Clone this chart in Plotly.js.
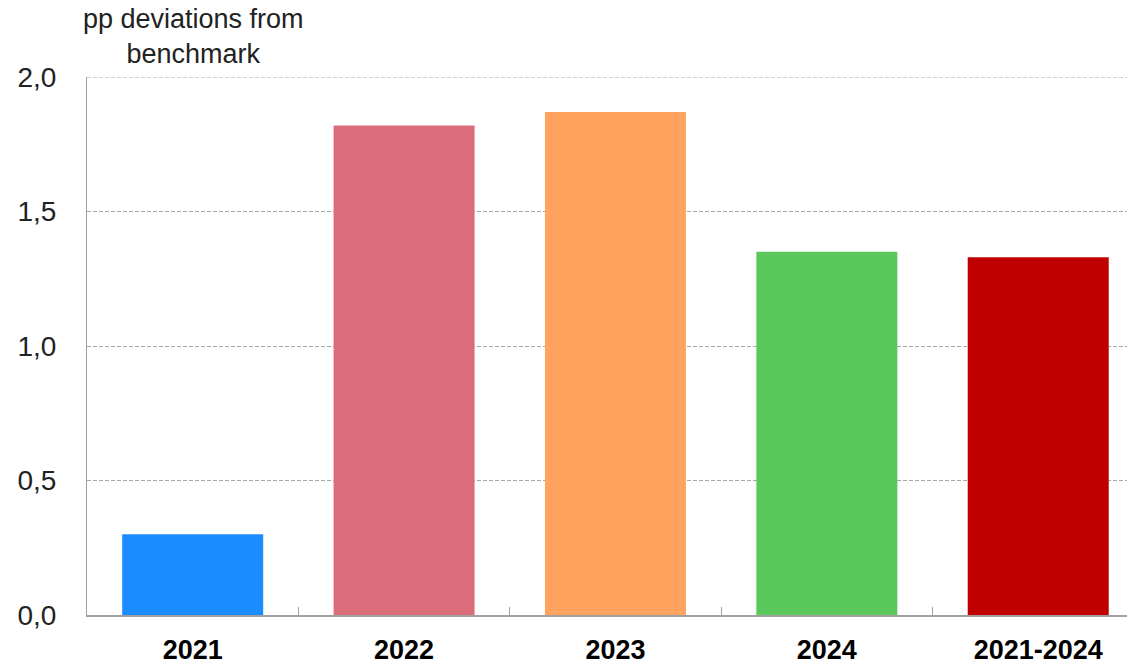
<!DOCTYPE html>
<html>
<head>
<meta charset="utf-8">
<script src="https://cdn.plot.ly/plotly-3.0.1.min.js"></script>
<style>html,body{margin:0;padding:0;background:#fff;}#chart{width:1127px;height:666px;}</style>
</head>
<body>
<div id="chart"></div>
<script>
const categories = ["2021", "2022", "2023", "2024", "2021-2024"];
const values = [0.30, 1.82, 1.87, 1.35, 1.33];
const barColors = ["#1a8cff", "#db6c79", "#ffa35f", "#5bc85b", "#c00000"];
const yTickVals = [0, 0.5, 1.0, 1.5, 2.0];
const yTickText = ["0,0", "0,5", "1,0", "1,5", "2,0"];
const yMax = 2.0;
const yTitle = "pp deviations from<br>benchmark";

const trace = {
  type: "bar",
  x: categories,
  y: values,
  marker: { color: barColors, line: { width: 0 } },
  hoverinfo: "x+y"
};

const layout = {
  width: 1127,
  height: 666,
  margin: { l: 87, r: 0, t: 77, b: 51, pad: 0 },
  paper_bgcolor: "#ffffff",
  plot_bgcolor: "#ffffff",
  bargap: 0.333,
  showlegend: false,
  font: { family: "Liberation Sans, Arial, sans-serif", color: "#222" },
  xaxis: {
    type: "category",
    range: [-0.5, 4.42],
    showgrid: false,
    showline: true,
    linecolor: "#a0a0a0",
    linewidth: 1.5,
    ticks: "inside",
    ticklen: 8,
    tickcolor: "#a0a0a0",
    tickson: "boundaries",
    tickfont: { size: 27, color: "#000", weight: "bold" },
    ticklabelstandoff: 10,
    zeroline: false
  },
  yaxis: {
    range: [0, yMax],
    tickvals: yTickVals,
    ticktext: yTickText,
    showgrid: true,
    gridcolor: "#a6a6a6",
    griddash: "4px,2px",
    gridwidth: 1,
    showline: true,
    linecolor: "#a0a0a0",
    linewidth: 1,
    ticks: "",
    tickfont: { size: 28, color: "#222" },
    ticklabelstandoff: 24,
    zeroline: false
  },
  shapes: [{
    type: "line",
    xref: "paper", yref: "y",
    x0: 0, x1: 1, y0: yMax, y1: yMax,
    line: { color: "#a6a6a6", width: 1, dash: "4px,2px" },
    layer: "below"
  }],
  annotations: [{
    text: yTitle,
    xref: "paper", yref: "paper",
    x: 0.102, y: 1.0,
    xanchor: "center", yanchor: "bottom",
    yshift: 6,
    showarrow: false,
    align: "center",
    font: { size: 27, color: "#222" }
  }]
};

Plotly.newPlot("chart", [trace], layout, { displayModeBar: false, staticPlot: true });
</script>
</body>
</html>
